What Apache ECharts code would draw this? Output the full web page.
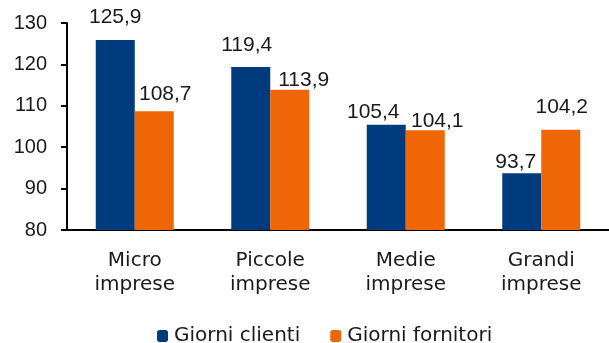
<!DOCTYPE html>
<html><head><meta charset="utf-8">
<script src="https://cdn.jsdelivr.net/npm/echarts@6/dist/echarts.min.js"></script>
<style>html,body{margin:0;padding:0;background:#fff}#c{width:609px;height:343px}</style>
</head><body><div id="c"></div>
<script>
const categories = ["Micro\nimprese", "Piccole\nimprese", "Medie\nimprese", "Grandi\nimprese"];
const giorniClienti = [125.9, 119.4, 105.4, 93.7];
const giorniFornitori = [108.7, 113.9, 104.1, 104.2];
const seriesNames = ["Giorni clienti", "Giorni fornitori"];
const yMin = 80, yMax = 130, yStep = 10;

const textFont = "DejaVu Sans";
const numFont = "Liberation Sans";
const txtColor = '#1a1a1a';
const fmt = p => p.value.toFixed(1).replace('.', ',');
// manual label nudges as placed in the original (Excel) chart
const labelNudge = [
  [[0, -8], [-4, -7], [-13, 2], [-6, 3]],
  [[11, -2], [14, 5], [12, 5], [1, -8]]
];
function build(values, si) {
  return values.map((v, i) => ({value: v, label: {offset: labelNudge[si][i]}}));
}
const valLabel = {show: true, position: 'top', distance: 4, formatter: fmt,
  fontFamily: numFont, fontSize: 21, color: txtColor};

const chart = echarts.init(document.getElementById('c'), null, {renderer: 'canvas'});
chart.setOption({
  animation: false,
  textStyle: {fontFamily: textFont},
  grid: {left: 67, top: 23, width: 543, bottom: 113, containLabel: false},
  legend: {
    bottom: -8, left: 152, itemWidth: 11, itemHeight: 12, itemGap: 30,
    textStyle: {fontFamily: textFont, fontSize: 20, color: txtColor, padding: [0, 0, 0, 1]},
    data: seriesNames
  },
  xAxis: {
    type: 'category', data: categories,
    axisLine: {lineStyle: {color: '#000', width: 2}},
    axisTick: {show: false},
    axisLabel: {fontFamily: textFont, fontSize: 20, color: txtColor, lineHeight: 24, margin: 19}
  },
  yAxis: {
    type: 'value', min: yMin, max: yMax, interval: yStep,
    splitLine: {show: false},
    axisLine: {show: true, lineStyle: {color: '#000', width: 2}},
    axisTick: {show: true, length: 6, lineStyle: {color: '#000', width: 2}},
    axisLabel: {fontFamily: numFont, fontSize: 20, color: txtColor, margin: 20}
  },
  series: [
    {name: seriesNames[0], type: 'bar', data: build(giorniClienti, 0), barWidth: 39, barGap: '0%',
     itemStyle: {color: '#003C7D'}, label: valLabel},
    {name: seriesNames[1], type: 'bar', data: build(giorniFornitori, 1), barWidth: 39, barGap: '0%',
     itemStyle: {color: '#EE6605'}, label: valLabel}
  ]
});
</script></body></html>
